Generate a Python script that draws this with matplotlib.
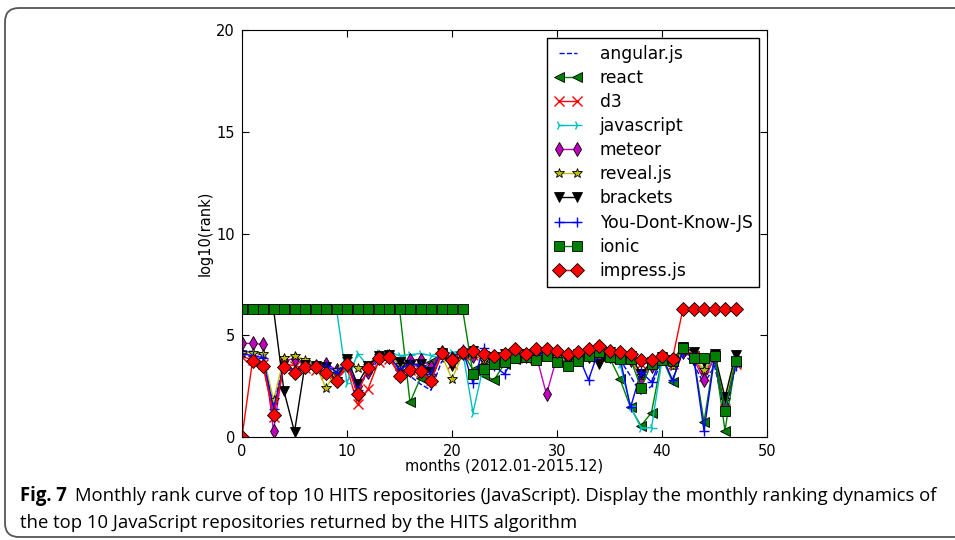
import matplotlib
matplotlib.use("Agg")
import matplotlib.pyplot as plt
from matplotlib.patches import FancyBboxPatch

# months 0..47 (2012.01 - 2015.12)
months = list(range(48))

angular_js = [4.25, 4.2, 4.0, 1.5, 3.7, 3.0, 3.5, 3.3, 3.2, 3.0, 3.6, 2.6, 3.0, 3.85, 3.95, 3.1,
              3.0, 2.6, 2.3, 3.7, 3.7, 4.1, 3.9, 4.0, 3.3, 3.7, 4.0, 3.9, 4.0, 4.05, 4.0, 3.8,
              3.95, 4.0, 4.2, 4.0, 3.8, 3.0, 2.1, 2.5, 3.8, 3.5, 4.1, 3.6, 2.6, 3.5, 1.2, 3.4]
react = [6.3] * 16 + [1.7, 2.9, 3.7, 4.1, 3.9, 4.15, 3.3, 3.05, 2.8, 3.6, 3.85, 3.9, 3.95, 4.0, 3.9, 3.7,
                      3.85, 3.95, 4.0, 3.9, 2.85, 1.45, 0.55, 1.2, 3.9, 2.7, 4.3, 4.0, 0.75, 4.0, 0.3, 3.7]
d3 = [3.95, 3.8, 3.6, 1.0, 3.6, 3.5, 3.4, 3.3, 3.1, 2.9, 3.4, 1.6, 2.35, 3.7, 3.85, 3.1,
      3.3, 3.2, 2.8, 4.0, 3.6, 4.1, 4.05, 3.8, 3.8, 3.9, 4.1, 3.9, 4.1, 4.0, 4.0, 3.9,
      4.0, 4.1, 4.2, 4.05, 4.0, 3.9, 3.6, 3.65, 3.9, 3.6, 4.3, 4.0, 3.0, 4.0, 1.4, 3.6]
javascript = [6.3] * 10 + [2.65, 4.1, 3.5, 4.15, 4.15, 4.0, 4.05, 4.1, 4.0, 4.15, 4.15, 4.25,
                           1.2, 3.5, 3.7, 3.85, 3.95, 4.0, 4.0, 4.05, 4.0, 3.9, 3.95, 4.05, 4.1, 4.0,
                           3.6, 1.5, 0.45, 0.45, 3.8, 3.65, 4.3, 3.85, 3.3, 3.85, 1.6, 3.7]
meteor = [4.6, 4.6, 4.55, 0.3, 3.75, 3.85, 3.55, 3.5, 3.6, 3.3, 3.55, 2.5, 3.2, 3.95, 4.0, 3.55,
          3.8, 3.8, 3.45, 4.2, 3.9, 4.15, 4.0, 3.85, 3.9, 3.95, 4.0, 4.0, 4.05, 2.1, 3.95, 3.9,
          3.95, 4.0, 4.05, 4.0, 3.95, 3.8, 2.9, 3.5, 3.9, 3.7, 4.2, 3.85, 2.8, 3.9, 1.5, 3.75]
reveal_js = [4.15, 4.15, 4.1, 1.8, 3.9, 4.0, 3.8, 3.55, 2.4, 3.3, 3.85, 3.4, 3.5, 4.0, 4.05, 3.55,
             3.65, 3.45, 3.0, 4.05, 2.85, 4.05, 4.1, 3.8, 3.85, 3.9, 4.0, 4.0, 4.05, 4.0, 3.95, 3.85,
             3.95, 4.05, 4.1, 4.0, 3.9, 3.85, 3.0, 3.55, 3.9, 3.5, 4.25, 3.9, 3.3, 3.95, 1.8, 3.8]
brackets = [6.3, 6.3, 6.3, 6.3, 2.25, 0.25, 3.55, 3.5, 3.45, 2.7, 3.85, 2.6, 3.5, 4.0, 4.05, 3.7,
            3.55, 3.6, 3.2, 4.15, 3.5, 4.1, 4.25, 4.0, 3.95, 4.1, 4.15, 4.1, 4.2, 4.15, 4.1, 4.0,
            4.1, 4.15, 3.6, 4.2, 4.05, 4.0, 3.1, 3.7, 3.95, 3.8, 4.4, 4.2, 3.7, 4.1, 1.95, 4.05]
ydkjs = [4.1, 4.0, 3.9, 1.4, 3.5, 3.3, 3.5, 3.4, 3.5, 3.2, 3.6, 2.3, 3.3, 3.95, 4.0, 3.3,
         3.6, 3.5, 3.1, 4.2, 3.8, 4.3, 2.65, 4.35, 3.5, 3.1, 4.0, 4.05, 4.1, 4.2, 4.15, 4.0,
         4.05, 2.8, 4.3, 4.1, 3.9, 1.45, 3.2, 2.7, 4.0, 2.8, 4.2, 3.95, 0.3, 3.9, 1.3, 3.5]
ionic = [6.3] * 22 + [3.1, 3.35, 3.6, 3.7, 3.9, 3.95, 3.8, 4.0, 3.7, 3.5, 3.75, 4.0, 4.2, 3.95,
                      3.85, 3.85, 2.4, 3.6, 3.8, 3.75, 4.35, 3.9, 3.9, 4.0, 1.3, 3.75]
impress_js = [0.0, 3.75, 3.5, 1.1, 3.45, 3.15, 3.45, 3.45, 3.15, 2.75, 3.6, 2.1, 3.4, 3.9, 3.95, 3.0,
              3.3, 3.25, 2.75, 4.15, 3.8, 4.2, 4.25, 4.1, 4.0, 4.1, 4.3, 4.1, 4.3, 4.3, 4.25, 4.1,
              4.2, 4.3, 4.45, 4.25, 4.2, 4.1, 3.8, 3.8, 4.0, 3.85, 6.3, 6.3, 6.3, 6.3, 6.3, 6.3]

series = [
    ("angular.js", angular_js, "b", "None", "--"),
    ("react", react, "g", "<", "-"),
    ("d3", d3, "r", "x", "-"),
    ("javascript", javascript, "c", "4", "-"),
    ("meteor", meteor, "m", "d", "-"),
    ("reveal.js", reveal_js, "y", "*", "-"),
    ("brackets", brackets, "k", "v", "-"),
    ("You-Dont-Know-JS", ydkjs, "b", "+", "-"),
    ("ionic", ionic, "g", "s", "-"),
    ("impress.js", impress_js, "r", "D", "-"),
]

classic = {"b": (0, 0, 1), "g": (0, 0.5, 0), "r": (1, 0, 0), "c": (0, 0.75, 0.75),
           "m": (0.75, 0, 0.75), "y": (0.75, 0.75, 0), "k": (0, 0, 0)}

plt.rcParams["font.family"] = "DejaVu Sans"
fig = plt.figure(figsize=(9.55, 5.4), dpi=100)
ax = fig.add_axes([242 / 955, 1 - 437 / 540, 525 / 955, 407 / 540])

for name, vals, col, mk, ls in series:
    c = classic[col]
    ax.plot(months, vals, color=c, linestyle=ls, marker=mk, lw=1.0,
            markersize=7, markerfacecolor=c,
            markeredgecolor=(c if mk in ("x", "+", "4") else "k"),
            markeredgewidth=(1.0 if mk in ("x", "+", "4") else 0.6),
            label=name)

ax.set_xlim(0, 50)
ax.set_ylim(0, 20)
ax.set_xticks([0, 10, 20, 30, 40, 50])
ax.set_yticks([0, 5, 10, 15, 20])
ax.tick_params(direction="in", top=True, right=True, length=5, labelsize=10.5, pad=5)
ax.set_xlabel("months (2012.01-2015.12)", fontsize=10.5, labelpad=0)
ax.set_ylabel("log10(rank)", fontsize=10.5, labelpad=3)

leg = ax.legend(loc="upper right", fontsize=12.3, numpoints=2, fancybox=False,
                borderpad=0.4, labelspacing=0.36, handlelength=1.7, handletextpad=1.0,
                borderaxespad=0.45, framealpha=1)
leg.get_frame().set_edgecolor("k")
leg.get_frame().set_linewidth(1.0)

# rounded frame around figure + caption (inches, so the corner stays round)
frame = FancyBboxPatch((0.05, 0.03), 12.0, 5.29, boxstyle="round,pad=0,rounding_size=0.14",
                       transform=fig.dpi_scale_trans, fill=False, edgecolor="#555555", lw=1.3)
fig.add_artist(frame)

cap_font = "Open Sans"
cap_size = 13.35
t1 = fig.text(20 / 955, 1 - 496 / 540, "Fig. 7", fontsize=cap_size, fontweight="bold",
              family=cap_font, va="center", ha="left")
fig.canvas.draw()
bb = t1.get_window_extent()
fig.text((bb.x1 + 8) / 955, 1 - 496 / 540,
         "Monthly rank curve of top 10 HITS repositories (JavaScript). Display the monthly ranking dynamics of",
         fontsize=cap_size, family=cap_font, va="center", ha="left")
fig.text(20 / 955, 1 - 523 / 540,
         "the top 10 JavaScript repositories returned by the HITS algorithm",
         fontsize=cap_size, family=cap_font, va="center", ha="left")

fig.savefig("out.png", dpi=100)
